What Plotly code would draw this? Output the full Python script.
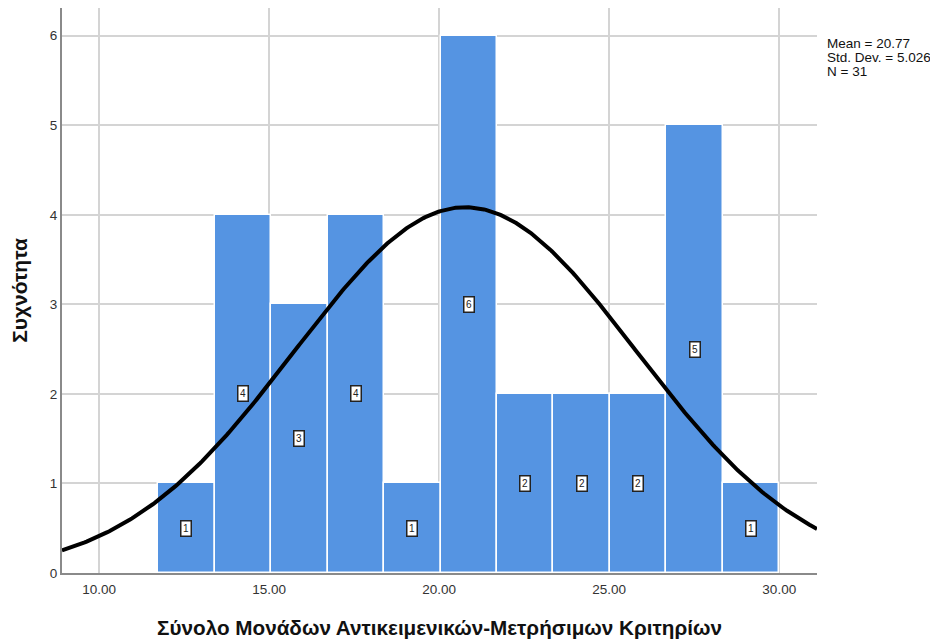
import numpy as np
import plotly.graph_objects as go

# Data
counts = [1, 4, 3, 4, 1, 6, 2, 2, 2, 5, 1]
bin_start = 11.74
bin_width = 1.66
mean_val = 20.77
std_val = 5.026
n_val = 31
x_ticks = [10, 15, 20, 25, 30]
y_ticks = [0, 1, 2, 3, 4, 5, 6]
x_title = "Σύνολο Μονάδων Αντικειμενικών-Μετρήσιμων Κριτηρίων"
y_title = "Συχνότητα"

centers = [bin_start + bin_width * (i + 0.5) for i in range(len(counts))]
x_range = [8.91, 31.11]

# Normal curve defined by the reported mean / std. dev. / N, scaled to bin width
xc = np.linspace(x_range[0], x_range[1], 400)
yc = n_val * bin_width / (std_val * np.sqrt(2 * np.pi)) * np.exp(-0.5 * ((xc - mean_val) / std_val) ** 2)

fig = go.Figure()
fig.add_trace(go.Bar(
    x=centers, y=counts, width=bin_width,
    marker=dict(color="#5594e2", line=dict(color="white", width=1.5)),
    hoverinfo="skip", showlegend=False,
))
fig.add_trace(go.Scatter(
    x=xc, y=yc, mode="lines", line=dict(color="black", width=4),
    hoverinfo="skip", showlegend=False,
))

for cx, c in zip(centers, counts):
    fig.add_annotation(
        x=cx, y=c / 2, text=str(c), showarrow=False,
        font=dict(family="Arial", size=10, color="#222"),
        bgcolor="white", bordercolor="#222", borderwidth=1.5, borderpad=1.5,
    )

stats_lines = [f"Mean = {mean_val:.2f}", f"Std. Dev. = {std_val:.3f}", f"N = {n_val}"]
for i, line in enumerate(stats_lines):
    fig.add_annotation(
        xref="paper", yref="y", x=1.011, y=6.0, xanchor="left", yanchor="middle",
        yshift=-7.5 - 14 * i, text=line, showarrow=False, align="left",
        font=dict(family="Arial", size=13.5, color="#111"),
    )

fig.update_layout(
    width=938, height=641,
    margin=dict(l=54, r=129, t=0, b=76),
    paper_bgcolor="white", plot_bgcolor="white",
    font=dict(family="Arial", color="#333"),
    bargap=0,
    xaxis=dict(
        range=x_range, tickvals=x_ticks, tickformat=".2f",
        showgrid=True, gridcolor="#d4d4d4", gridwidth=1.5,
        showline=True, linecolor="#8a8a8a", linewidth=2,
        ticks="", zeroline=False, automargin=False, ticklabelstandoff=3,
        tickfont=dict(family="Arial", size=13.5, color="#333"),
        title=dict(text=x_title, font=dict(family="Arial", size=20.7, color="#111", weight="bold"), standoff=24),
    ),
    yaxis=dict(
        range=[0, 6.31], tickvals=y_ticks,
        showgrid=True, gridcolor="#d4d4d4", gridwidth=1.5,
        showline=True, linecolor="#8a8a8a", linewidth=2,
        ticks="", zeroline=False, automargin=False,
        tickfont=dict(family="Arial", size=13.5, color="#333"),
        title=dict(text=y_title, font=dict(family="Arial", size=21, color="#111", weight="bold"), standoff=16),
    ),
)

fig.write_html("out.html")
